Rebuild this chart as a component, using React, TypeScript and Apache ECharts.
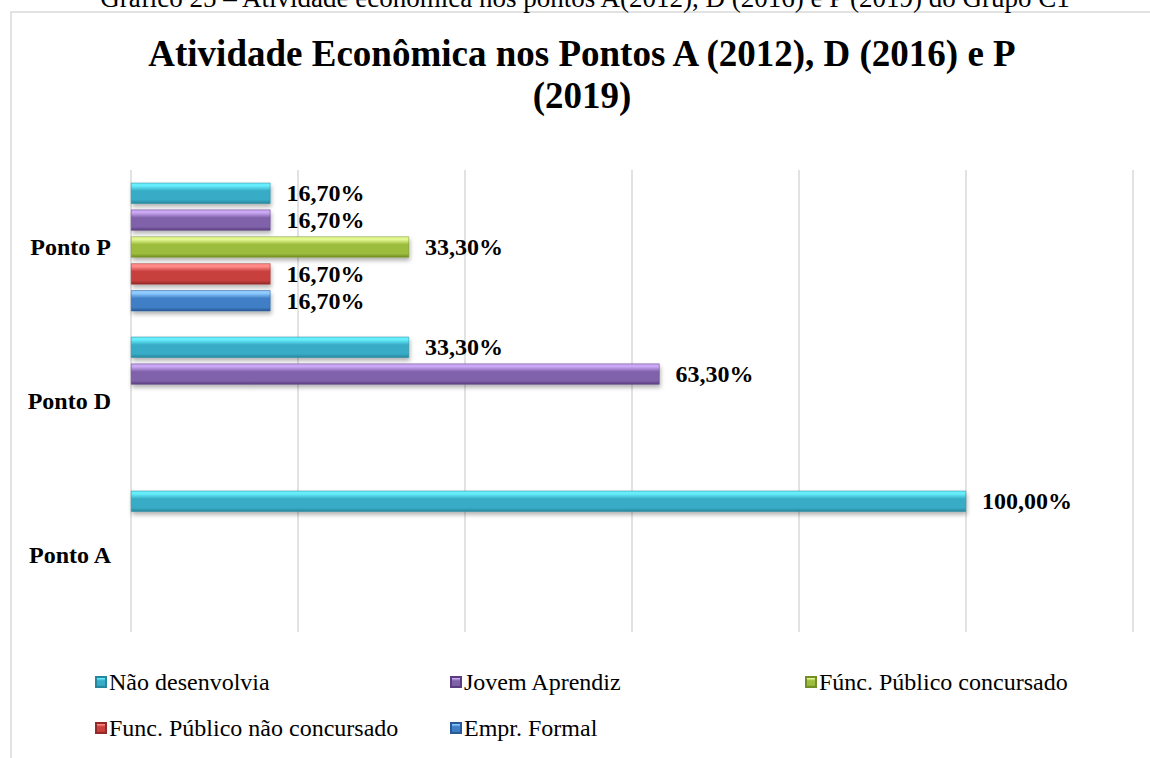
import React, { useEffect, useRef } from "react";
import * as echarts from "echarts";

const categories = ["Ponto A", "Ponto D", "Ponto P"];
const seriesNames = [
  "Não desenvolvia",
  "Jovem Aprendiz",
  "Fúnc. Público concursado",
  "Func. Público não concursado",
  "Empr. Formal",
];
const naoDesenvolvia: (number | string)[] = [100, 33.3, 16.7];
const jovemAprendiz: (number | string)[] = ["-", 63.3, 16.7];
const funcConcursado: (number | string)[] = ["-", "-", 33.3];
const funcNaoConcursado: (number | string)[] = ["-", "-", 16.7];
const emprFormal: (number | string)[] = ["-", "-", 16.7];
const seriesValues = [naoDesenvolvia, jovemAprendiz, funcConcursado, funcNaoConcursado, emprFormal];

const palette: [string, string, string][] = [
  ["#66eefc", "#38acc6", "#27869c"],
  ["#cba8f4", "#8062aa", "#5a3e80"],
  ["#e2f792", "#9cbc3c", "#728e24"],
  ["#ff8a88", "#c8403e", "#942a28"],
  ["#8ccaff", "#3f7fc6", "#2a5a94"],
];

const legendSlots = [
  { name: "Não desenvolvia", left: 95, top: 670 },
  { name: "Jovem Aprendiz", left: 450, top: 670 },
  { name: "Fúnc. Público concursado", left: 805, top: 670 },
  { name: "Func. Público não concursado", left: 95, top: 716 },
  { name: "Empr. Formal", left: 450, top: 716 },
];

const caption = "Gráfico 25 – Atividade econômica nos pontos A(2012), D (2016) e P (2019) do Grupo C1";
const titleText = "Atividade Econômica nos Pontos A (2012), D (2016) e P\n(2019)";

const FONT = "Liberation Serif, Times New Roman, serif";

function bevel(c: [string, string, string]) {
  return new echarts.graphic.LinearGradient(0, 0, 0, 1, [
    { offset: 0, color: c[0] },
    { offset: 0.14, color: c[0] },
    { offset: 0.38, color: c[1] },
    { offset: 0.82, color: c[1] },
    { offset: 1, color: c[2] },
  ]);
}

export default function App() {
  const ref = useRef<HTMLDivElement>(null);
  useEffect(() => {
    if (!ref.current) return;
    const chart = echarts.init(ref.current, undefined, { renderer: "svg" });
    const option: any = {
      animation: false,
      backgroundColor: "#ffffff",
      title: {
        text: titleText,
        left: 582,
        textAlign: "center",
        top: 32,
        padding: 0,
        textStyle: {
          fontFamily: FONT,
          fontSize: 37,
          fontWeight: "bold",
          color: "#000",
          lineHeight: 42,
        },
      },
      graphic: [
        {
          type: "rect",
          shape: { x: 11, y: 12, width: 1200, height: 800 },
          style: { fill: "none", stroke: "#d9d9d9", lineWidth: 1.5 },
          silent: true,
          z: -10,
        },
        {
          type: "text",
          style: {
            text: caption,
            x: 585,
            y: 11,
            textAlign: "center",
            textVerticalAlign: "bottom",
            font: `27px ${FONT}`,
            fill: "#000",
          },
          silent: true,
        },
      ],
      legend: legendSlots.map((s) => ({
        data: [s.name],
        left: s.left,
        top: s.top,
        padding: 0,
        itemWidth: 10,
        itemHeight: 10,
        itemGap: 5,
        icon: "rect",
        selectedMode: false,
        textStyle: { fontFamily: FONT, fontSize: 24, color: "#000", padding: [0, 0, 0, -2] },
      })),
      grid: { left: 131, right: 17, top: 170, bottom: 126, containLabel: false },
      xAxis: {
        type: "value",
        min: 0,
        max: 120,
        interval: 20,
        axisLabel: { show: false },
        axisTick: { show: false },
        axisLine: { show: false },
        splitLine: { show: true, lineStyle: { color: "#d9d9d9", width: 1.5 } },
      },
      yAxis: {
        type: "category",
        data: categories,
        axisTick: { show: false },
        axisLine: { show: false },
        axisLabel: {
          margin: 20,
          fontFamily: FONT,
          fontSize: 24,
          fontWeight: "bold",
          color: "#000",
        },
      },
      series: seriesNames.map((name, i) => ({
        name,
        type: "bar",
        data: seriesValues[i],
        barWidth: 21,
        barGap: "28%",
        itemStyle: {
          color: bevel(palette[i]),
          borderColor: palette[i][2],
          borderWidth: 0.5,
          shadowColor: "rgba(0,0,0,0.3)",
          shadowBlur: 4,
          shadowOffsetY: 3,
          shadowOffsetX: 1,
        },
        label: {
          show: true,
          position: "right",
          distance: 16,
          fontFamily: FONT,
          fontSize: 24,
          fontWeight: "bold",
          color: "#000",
          formatter: (p: any) => Number(p.value).toFixed(2).replace(".", ",") + "%",
        },
      })),
    };
    chart.setOption(option);
    return () => chart.dispose();
  }, []);
  return (
    <div
      ref={ref}
      style={{ position: "absolute", left: 0, top: 0, width: 1150, height: 758 }}
    />
  );
}
